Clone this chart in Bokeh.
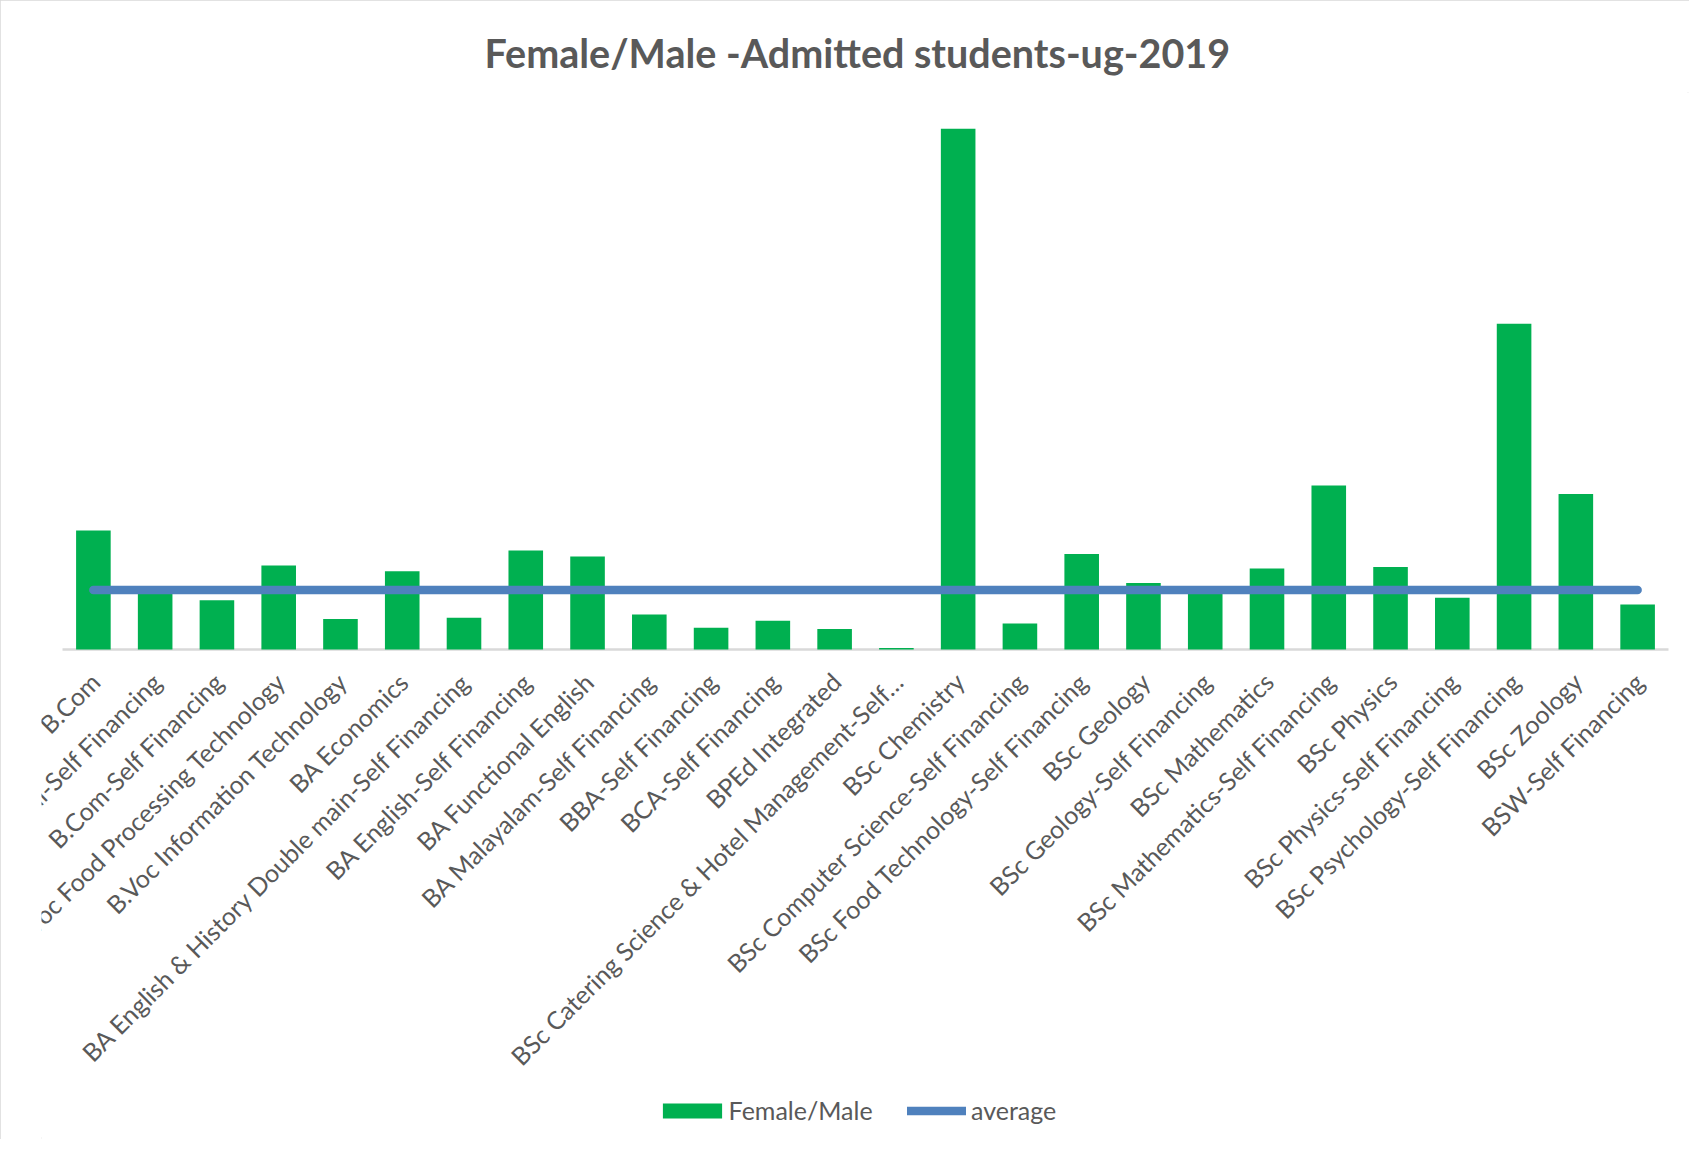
import math
from bokeh.plotting import figure
from bokeh.models import (FactorRange, Range1d, Legend, LegendItem,
                          LabelSet, ColumnDataSource)
from bokeh.core.properties import value
from bokeh.embed import file_html
from bokeh.resources import INLINE

categories = [
    "B.Com",
    "B.Com Professional-Self Financing",
    "B.Com-Self Financing",
    "B.Voc Food Processing Technology",
    "B.Voc Information Technology",
    "BA Economics",
    "BA English & History Double main-Self Financing",
    "BA English-Self Financing",
    "BA Functional English",
    "BA Malayalam-Self Financing",
    "BBA-Self Financing",
    "BCA-Self Financing",
    "BPEd Integrated",
    "BSc Catering Science & Hotel Management-Self\u2026",
    "BSc Chemistry",
    "BSc Computer Science-Self Financing",
    "BSc Food Technology-Self Financing",
    "BSc Geology",
    "BSc Geology-Self Financing",
    "BSc Mathematics",
    "BSc Mathematics-Self Financing",
    "BSc Physics",
    "BSc Physics-Self Financing",
    "BSc Psychology-Self Financing",
    "BSc Zoology",
    "BSW-Self Financing",
]

female_male = [
    4.99, 2.43, 2.07, 3.52, 1.28, 3.28, 1.33, 4.15, 3.90, 1.47,
    0.91, 1.21, 0.86, 0.06, 21.84, 1.09, 4.01, 2.79, 2.43, 3.40,
    6.88, 3.46, 2.17, 13.66, 6.52, 1.89,
]

average = 2.5
avg_values = [average] * len(categories)

TEXT = "#595959"
FONT = "Lato"

W, H = 1689, 1139
p = figure(
    width=W, height=H,
    x_range=FactorRange(*categories, range_padding=0.34,
                        range_padding_units="absolute"),
    y_range=Range1d(-20.55, 23.36),
    output_backend="svg", toolbar_location=None,
    min_border_left=41, min_border_right=0,
    min_border_top=92, min_border_bottom=0,
)

# category axis baseline (spans the full category band)
p.segment(x0=[0], y0=[0], x1=[len(categories)], y1=[0],
          line_color="#D9D9D9", line_width=2.5)

bars = p.vbar(x=categories, top=female_male, width=0.56,
              fill_color="#00B050", line_color=None)
avg_line = p.line(x=categories, y=avg_values, line_color="#4F81BD",
                  line_width=8.5, line_cap="round")

# category tick labels, rotated 45 degrees
label_src = ColumnDataSource(dict(x=categories, y=[0] * len(categories),
                                  text=categories))
labels = LabelSet(x="x", y="y", text="text", source=label_src,
                  angle=math.pi / 4, text_align="right",
                  text_baseline="middle", x_offset=1.5, y_offset=-27.6,
                  text_font=value(FONT), text_font_size=value("25px"),
                  text_color=value(TEXT))
p.add_layout(labels)

p.title.text = "Female/Male -Admitted students-ug-2019"
p.title.align = "left"
p.title.offset = 443
p.title.text_font = FONT
p.title.text_font_size = "39.5px"
p.title.text_font_style = "bold"
p.title.text_color = TEXT
p.title.standoff = 34

p.xgrid.visible = False
p.ygrid.visible = False
p.xaxis.visible = False
p.yaxis.visible = False
p.outline_line_color = None

common = dict(orientation="horizontal", glyph_height=19,
              label_text_font=FONT, label_text_font_size="25px",
              label_text_color=TEXT, border_line_color=None,
              background_fill_alpha=0, margin=0, padding=0)
legend1 = Legend(items=[LegendItem(label="Female/Male", renderers=[bars])],
                 location=(613.6, 14), glyph_width=74, label_standoff=0,
                 **common)
legend2 = Legend(items=[LegendItem(label="average", renderers=[avg_line])],
                 location=(866, 14), glyph_width=59, label_standoff=5,
                 **common)
p.add_layout(legend1, "center")
p.add_layout(legend2, "center")

p.styles = {"outline": "2px solid #D9D9D9", "outline-offset": "-2px"}

open("out.html", "w").write(file_html(p, INLINE))
